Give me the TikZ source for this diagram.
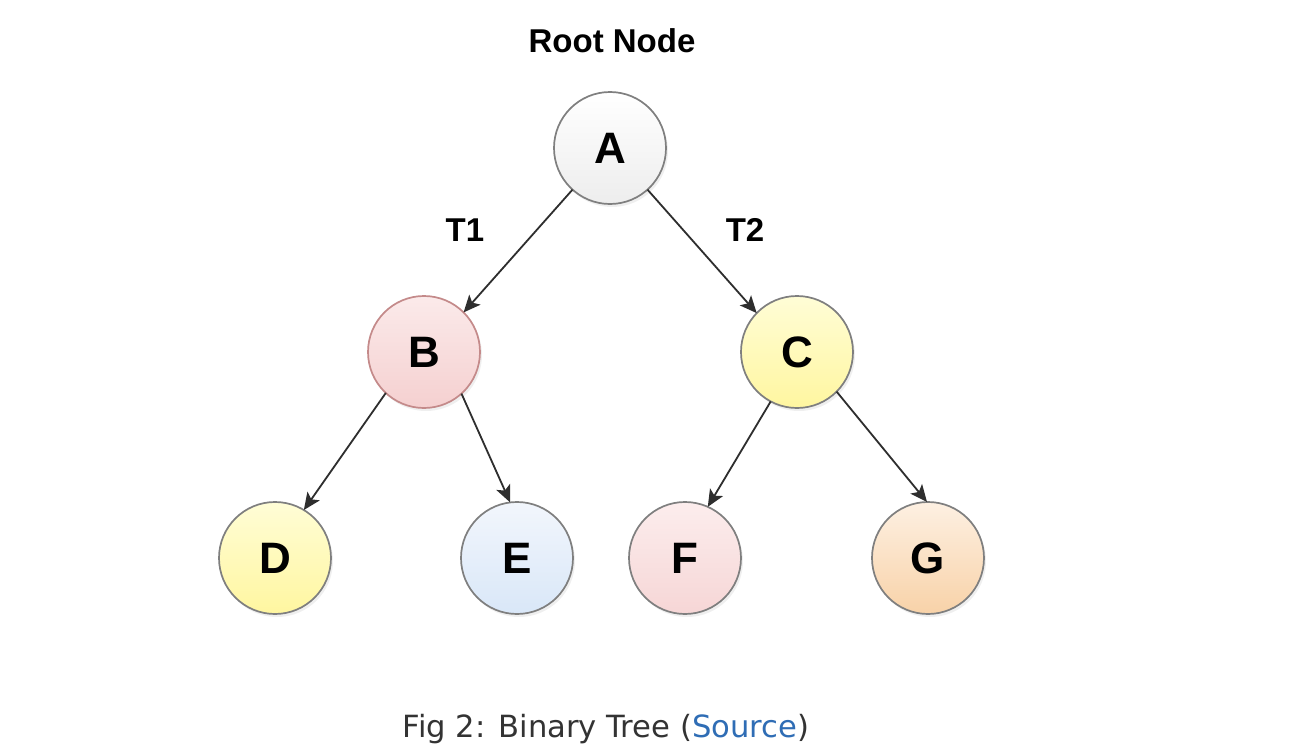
\documentclass[tikz,border=0pt]{standalone}
\usepackage{fontspec}
\setmainfont{Liberation Sans}
\newfontfamily\capfont{DejaVu Sans}
\usetikzlibrary{arrows.meta,shadows}
\definecolor{capgray}{HTML}{333333}
\definecolor{srcblue}{HTML}{2F6DB5}
\definecolor{edgegray}{HTML}{2E2E2E}
\definecolor{rimgray}{HTML}{7F7F7F}
\definecolor{rimred}{HTML}{C48A8A}
\definecolor{aTop}{HTML}{FFFFFF}\definecolor{aBot}{HTML}{EDEDED}
\definecolor{bTop}{HTML}{FBEAEA}\definecolor{bBot}{HTML}{F5D0D0}
\definecolor{yTop}{HTML}{FFFDD6}\definecolor{yBot}{HTML}{FFF6A0}
\definecolor{eTop}{HTML}{F2F6FC}\definecolor{eBot}{HTML}{D9E7F8}
\definecolor{fTop}{HTML}{FCEDED}\definecolor{fBot}{HTML}{F6D6D6}
\definecolor{gTop}{HTML}{FDF0E2}\definecolor{gBot}{HTML}{F8D2A8}
\tikzset{
  tnode/.style={circle, minimum size=112pt, inner sep=0pt, outer sep=0pt,
    draw=rimgray, line width=1.7pt, font=\fontsize{44}{44}\selectfont\bfseries,
    drop shadow={opacity=0.12, shadow xshift=2pt, shadow yshift=-3pt}},
  lbl/.style={font=\fontsize{33}{33}\selectfont\bfseries, text=black},
  edge/.style={draw=edgegray, line width=1.8pt, -{Stealth[length=17pt,width=15pt,inset=4pt]}}
}
\begin{document}
\begin{tikzpicture}[x=1pt,y=-1pt]
\fill[white] (0,0) rectangle (1304,752);
\useasboundingbox (0,0) rectangle (1304,752);
\node[tnode, top color=aTop, bottom color=aBot] (A) at (610,148) {A};
\node[tnode, draw=rimred, top color=bTop, bottom color=bBot] (B) at (424,352) {B};
\node[tnode, top color=yTop, bottom color=yBot] (C) at (797,352) {C};
\node[tnode, top color=yTop, bottom color=yBot] (D) at (275,558) {D};
\node[tnode, top color=eTop, bottom color=eBot] (E) at (517,558) {E};
\node[tnode, top color=fTop, bottom color=fBot] (F) at (685,558) {F};
\node[tnode, top color=gTop, bottom color=gBot] (G) at (928,558) {G};
\node[lbl] (root) at (612,41) {Root Node};
\node[lbl] (t1) at (465,230) {T1};
\node[lbl] (t2) at (745,230) {T2};
\draw[edge] (A.228) -- (B.45);
\draw[edge] (A.312) -- (C.136);
\draw[edge] (B.227) -- (D.59);
\draw[edge] (B.312) -- (E.97);
\draw[edge] (C.242) -- (F.66);
\draw[edge] (C.315) -- (G.91);
\node[anchor=base, font=\capfont\fontsize{30.6}{30.6}\selectfont, text=capgray] (cap) at (606,737) {Fig 2: Binary Tree (\textcolor{srcblue}{Source})};
\end{tikzpicture}
\end{document}
